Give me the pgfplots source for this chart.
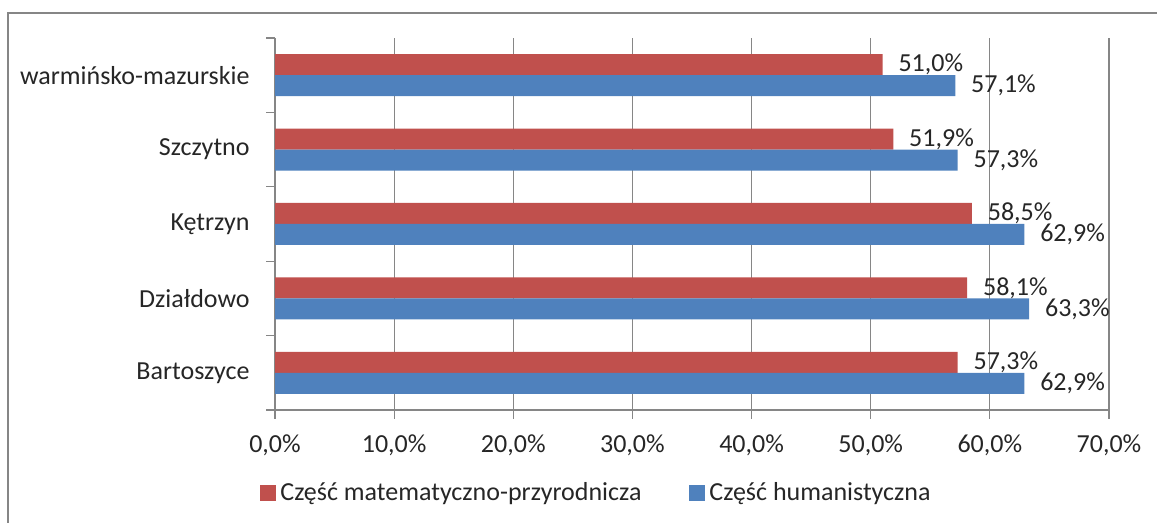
\documentclass[border=0pt]{standalone}
\usepackage{fontspec}
\setmainfont{Carlito}
\usepackage{pgfplots}
\pgfplotsset{compat=1.18}
\definecolor{matred}{HTML}{C0504D}
\definecolor{humblue}{HTML}{4F81BD}
\definecolor{framegray}{HTML}{868686}
\definecolor{txt}{HTML}{262626}
\pgfplotsset{sqlegend/.style={legend image code/.code={\fill[##1] (0pt,-4pt) rectangle (8pt,4pt);}}}
\newcommand{\chartfont}{\fontsize{13pt}{15.5pt}\selectfont}

\begin{document}
\begin{tikzpicture}[font=\chartfont]
\useasboundingbox (0pt,0pt) rectangle (578.5pt,261.5pt);
\draw[framegray, line width=1pt] (4pt,-2pt) -- (4pt,255pt) -- (582pt,255pt);
\begin{axis}[
  at={(137.5pt,56.5pt)}, anchor=south west,
  scale only axis, width=417pt, height=186pt,
  xbar, bar width=10.5pt,
  xmin=0, xmax=70, ymin=-0.5, ymax=4.5,
  xtick={0,10,...,70},
  /pgf/number format/assume math mode=true,
  xticklabel={\pgfmathprintnumber[fixed,fixed zerofill,precision=1,use comma]{\tick}\%},
  ytick={0,...,4},
  yticklabels={Bartoszyce,Działdowo,Kętrzyn,Szczytno,warmińsko-mazurskie},
  minor ytick={-0.5,0.5,...,4.5},
  axis lines*=left,
  axis line style={framegray, line width=0.6pt},
  tick align=outside,
  major tick length=4.5pt, minor tick length=4.5pt,
  tick style={framegray, line width=0.6pt},
  major y tick style={draw=none},
  xmajorgrids, major x grid style={framegray, line width=0.6pt},
  tick label style={text=txt, font=\chartfont},
  yticklabel style={inner sep=0pt, anchor=east, xshift=-8pt},
  xticklabel style={inner sep=0pt, anchor=north, yshift=-7.5pt},
  point meta=x,
  nodes near coords={\pgfmathprintnumber[fixed,fixed zerofill,precision=1,use comma]{\pgfplotspointmeta}\%},
  nodes near coords style={anchor=west, inner sep=0pt, xshift=7.75pt, text=txt, font=\chartfont},
  legend style={at={(0.3867,-0.223)}, anchor=center, draw=none, fill=none,
    legend columns=2, text=txt, font=\chartfont,
    /tikz/every even column/.append style={column sep=22pt}},
]
\addplot[fill=matred, draw=none, bar shift=5.25pt, sqlegend]
  coordinates {(57.3,0) (58.1,1) (58.5,2) (51.9,3) (51.0,4)};
\addplot[fill=humblue, draw=none, bar shift=-5.25pt, sqlegend]
  coordinates {(62.9,0) (63.3,1) (62.9,2) (57.3,3) (57.1,4)};
\legend{Część matematyczno-przyrodnicza, Część humanistyczna}
\end{axis}
\end{tikzpicture}
\end{document}
